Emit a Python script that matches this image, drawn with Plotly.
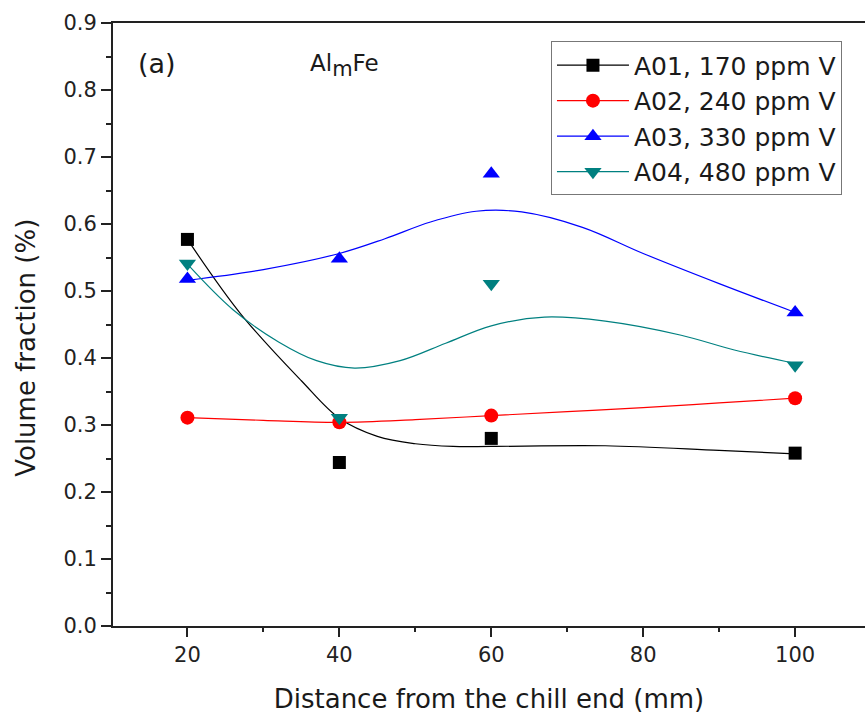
import plotly.graph_objects as go

# Measured volume fractions at each sampling distance
distance_mm = [20, 40, 60, 100]
a01_vf = [0.577, 0.244, 0.280, 0.258]
a02_vf = [0.311, 0.304, 0.314, 0.340]
a03_vf = [0.518, 0.548, 0.675, 0.468]
a04_vf = [0.541, 0.311, 0.511, 0.389]

# Smoothed trend curves (sampled along each fitted line)
a01_fit_x = [20, 27, 35, 40, 45, 50, 55, 60, 75, 90, 100]
a01_fit_y = [0.577, 0.466, 0.366, 0.310, 0.283, 0.272, 0.268, 0.268, 0.269, 0.262, 0.257]
a02_fit_x = [20, 30, 40, 50, 60, 70, 80, 90, 100]
a02_fit_y = [0.311, 0.307, 0.304, 0.308, 0.314, 0.320, 0.326, 0.333, 0.340]
a03_fit_x = [20, 30, 40, 46, 52, 58, 64, 72, 80, 90, 100]
a03_fit_y = [0.516, 0.532, 0.556, 0.578, 0.603, 0.619, 0.618, 0.595, 0.556, 0.511, 0.468]
a04_fit_x = [20, 26, 32, 37, 42, 48, 54, 60, 67, 75, 85, 92, 100]
a04_fit_y = [0.540, 0.472, 0.424, 0.396, 0.385, 0.396, 0.422, 0.448, 0.461, 0.455, 0.434, 0.412, 0.392]

series = [
    ("A01, 170 ppm V", a01_vf, a01_fit_x, a01_fit_y, "#000000", "square", 13),
    ("A02, 240 ppm V", a02_vf, a02_fit_x, a02_fit_y, "#ff0000", "circle", 14),
    ("A03, 330 ppm V", a03_vf, a03_fit_x, a03_fit_y, "#0000ff", "triangle-up", 15),
    ("A04, 480 ppm V", a04_vf, a04_fit_x, a04_fit_y, "#008080", "triangle-down", 15),
]

FONT = "DejaVu Sans"
INK = "#1a1a1a"
fig = go.Figure()

for name, vf, fx, fy, color, symbol, size in series:
    fig.add_trace(go.Scatter(
        x=fx, y=fy, mode="lines",
        line=dict(color=color, width=1.2, shape="spline", smoothing=1.0),
        showlegend=False, hoverinfo="skip"))
    fig.add_trace(go.Scatter(
        x=distance_mm, y=vf, mode="markers",
        marker=dict(symbol=symbol, size=size, color=color, line=dict(width=0)),
        showlegend=False, name=name))
    # legend entry showing line + marker
    fig.add_trace(go.Scatter(
        x=[None], y=[None], mode="lines+markers", name=name,
        line=dict(color=color, width=1.2),
        marker=dict(symbol=symbol, size=size, color=color, line=dict(width=0))))

axis_common = dict(
    showline=True, linecolor="#222222", linewidth=2,
    ticks="outside", tickcolor="#222222", tickwidth=2,
    showgrid=False, zeroline=False,
    tickfont=dict(family=FONT, size=21, color="#222222"),
)

fig.update_xaxes(
    range=[10.2, 109.2], tickvals=[20, 40, 60, 80, 100], ticklen=9, mirror=True,
    minor=dict(ticks="outside", dtick=10, tick0=10, ticklen=4, tickwidth=2, tickcolor="#222222"),
    title=dict(text="Distance from the chill end (mm)", font=dict(family=FONT, size=26, color=INK), standoff=24),
    **axis_common)
fig.update_yaxes(
    range=[0, 0.9], dtick=0.1, tickformat=".1f", ticklen=10,
    minor=dict(ticks="outside", dtick=0.05, ticklen=5, tickwidth=2, tickcolor="#222222"),
    **axis_common)

# y-axis title, placed slightly below the plot centre
fig.add_annotation(x=-0.116, y=0.461, xref="paper", yref="paper", text="Volume fraction (%)",
                   textangle=-90, showarrow=False, xanchor="center", yanchor="middle",
                   font=dict(family=FONT, size=26, color=INK))

fig.add_annotation(x=16.0, y=0.840, xref="x", yref="y", text="(a)", showarrow=False,
                   font=dict(family=FONT, size=27, color=INK), xanchor="center", yanchor="middle")
fig.add_annotation(x=35.9, y=0.836, xref="x", yref="y",
                   text="Al<sub><span style='font-size:21px'>m</span></sub>Fe", showarrow=False,
                   font=dict(family=FONT, size=23, color=INK), xanchor="left", yanchor="middle")

fig.update_layout(
    width=865, height=715,
    margin=dict(l=113, r=0, t=23, b=89),
    paper_bgcolor="white", plot_bgcolor="white",
    legend=dict(x=0.5824, y=0.9695, xanchor="left", yanchor="top",
                bordercolor="#777777", borderwidth=1, bgcolor="white",
                font=dict(family=FONT, size=25, color=INK),
                itemwidth=72, tracegroupgap=0),
)

fig.write_html("out.html")
